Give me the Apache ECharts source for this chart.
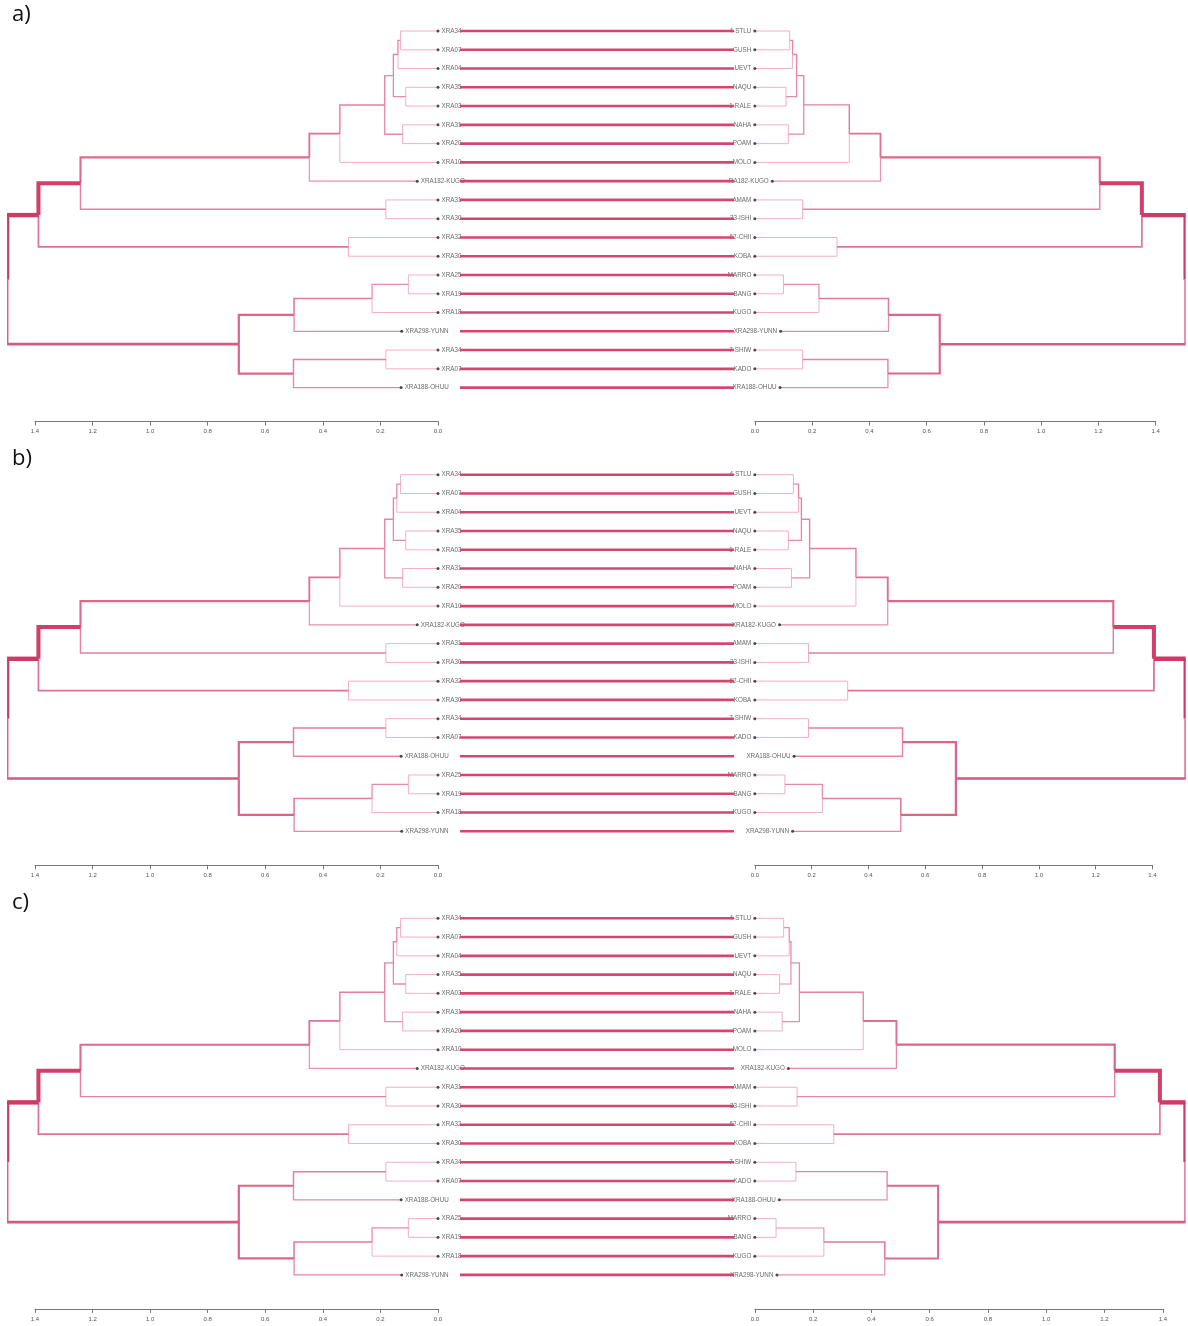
<!DOCTYPE html>
<html><head><meta charset="utf-8">
<script src="https://cdn.jsdelivr.net/npm/echarts@6/dist/echarts.min.js"></script>
<style>html,body{margin:0;padding:0;background:#fff}#c{width:1188px;height:1326px}</style>
</head><body><div id="c"></div>
<script>
// ---------- DATA ----------
const panelNames = ['a)', 'b)', 'c)'];

// Left dendrogram, panel a (top to bottom)
const leftLabelsA = ['XRA34','XRA07','XRA04','XRA35','XRA03','XRA31','XRA20','XRA10','XRA182-KUGO','XRA31','XRA30','XRA32','XRA30','XRA25','XRA19','XRA18','XRA298-YUNN','XRA34','XRA07','XRA188-OHUU'];
const leftLeafHA = [0,0,0,0,0,0,0,0,0.072,0,0,0,0,0,0,0,0.126,0,0,0.128];
// hclust-style merges: negative = leaf (1-based order), positive = earlier merge row; third = height
const leftMergesA = [[-1,-2,0.13],[1,-3,0.139],[-4,-5,0.112],[2,3,0.155],[-6,-7,0.123],[4,5,0.185],[6,-8,0.341],[7,-9,0.447],[-10,-11,0.181],[8,9,1.242],[-12,-13,0.311],[10,11,1.388],[-14,-15,0.103],[13,-16,0.229],[14,-17,0.5],[-18,-19,0.181],[16,-20,0.502],[15,17,0.692],[12,18,1.497]];

// Left dendrogram, panels b and c
const leftLabelsBC = ['XRA34','XRA07','XRA04','XRA35','XRA03','XRA31','XRA20','XRA10','XRA182-KUGO','XRA31','XRA30','XRA32','XRA30','XRA34','XRA07','XRA188-OHUU','XRA25','XRA19','XRA18','XRA298-YUNN'];
const leftLeafHBC = [0,0,0,0,0,0,0,0,0.072,0,0,0,0,0,0,0.128,0,0,0,0.126];
const leftMergesBC = [[-1,-2,0.13],[1,-3,0.143],[-4,-5,0.112],[2,3,0.155],[-6,-7,0.123],[4,5,0.185],[6,-8,0.341],[7,-9,0.447],[-10,-11,0.181],[8,9,1.242],[-12,-13,0.311],[10,11,1.388],[-14,-15,0.181],[13,-16,0.502],[-17,-18,0.103],[15,-19,0.229],[16,-20,0.5],[14,17,0.692],[12,18,1.497]];

// Right dendrogram, panel a
const rightLabelsA = ['4-STLU','GUSH','UEVT','NAQU','1-RALE','NAHA','POAM','MOLO','RA182-KUGO','AMAM','33-ISHI','62-CHII','KOBA','MARRO','BANG','KUGO','XRA298-YUNN','7-SHIW','KADO','XRA188-OHUU'];
const rightLeafHA = [0,0,0,0,0,0,0,0,0.061,0,0,0,0,0,0,0,0.09,0,0,0.088];
const rightMergesA = [[-1,-2,0.122],[1,-3,0.132],[-4,-5,0.109],[2,3,0.146],[-6,-7,0.117],[4,5,0.171],[6,-8,0.330],[7,-9,0.439],[-10,-11,0.167],[8,9,1.205],[-12,-13,0.287],[10,11,1.352],[-14,-15,0.1],[13,-16,0.224],[14,-17,0.467],[-18,-19,0.167],[16,-20,0.465],[15,17,0.646],[12,18,1.505]];

// Right dendrogram, panel b
const rightLabelsB = ['4-STLU','GUSH','UEVT','NAQU','1-RALE','NAHA','POAM','MOLO','XRA182-KUGO','AMAM','33-ISHI','62-CHII','KOBA','7-SHIW','KADO','XRA188-OHUU','MARRO','BANG','KUGO','XRA298-YUNN'];
const rightLeafHB = [0,0,0,0,0,0,0,0,0.087,0,0,0,0,0,0,0.138,0,0,0,0.133];
const rightMergesB = [[-1,-2,0.136],[1,-3,0.154],[-4,-5,0.118],[2,3,0.164],[-6,-7,0.129],[4,5,0.193],[6,-8,0.356],[7,-9,0.468],[-10,-11,0.189],[8,9,1.262],[-12,-13,0.327],[10,11,1.405],[-14,-15,0.189],[13,-16,0.52],[-17,-18,0.106],[15,-19,0.238],[16,-20,0.514],[14,17,0.708],[12,18,1.517]];

// Right dendrogram, panel c
const rightLabelsC = ['4-STLU','GUSH','UEVT','NAQU','1-RALE','NAHA','POAM','MOLO','XRA182-KUGO','AMAM','33-ISHI','62-CHII','KOBA','7-SHIW','KADO','XRA188-OHUU','MARRO','BANG','KUGO','XRA298-YUNN'];
const rightLeafHC = [0,0,0,0,0,0,0,0,0.115,0,0,0,0,0,0,0.084,0,0,0,0.076];
const rightMergesC = [[-1,-2,0.099],[1,-3,0.118],[-4,-5,0.085],[2,3,0.124],[-6,-7,0.094],[4,5,0.153],[6,-8,0.372],[7,-9,0.486],[-10,-11,0.145],[8,9,1.235],[-12,-13,0.271],[10,11,1.39],[-14,-15,0.141],[13,-16,0.454],[-17,-18,0.073],[15,-19,0.237],[16,-20,0.446],[14,17,0.629],[12,18,1.478]];

const axisMax = 1.4;
const axisStep = 0.2;

// ---------- LAYOUT ----------
const panelTop = [31, 474.7, 918.3];
const panelH = 356.6;
const axisOffset = 34;
const leftX = 35, leftW = 403;
const rightX = 754.8, rightW = [400.8, 397.7, 408];
const midX = 460, midW = 274;

const panels = [
  {left: [leftLabelsA, leftLeafHA, leftMergesA], right: [rightLabelsA, rightLeafHA, rightMergesA]},
  {left: [leftLabelsBC, leftLeafHBC, leftMergesBC], right: [rightLabelsB, rightLeafHB, rightMergesB]},
  {left: [leftLabelsBC, leftLeafHBC, leftMergesBC], right: [rightLabelsC, rightLeafHC, rightMergesC]}
];

function buildSegs(leafH, merges) {
  const nodes = [];
  const get = r => r < 0 ? {h: leafH[-r - 1], y: -r - 1} : nodes[r - 1];
  merges.forEach(m => {
    const a = get(m[0]), b = get(m[1]);
    nodes.push({h: m[2], y: (a.y + b.y) / 2, kids: [a, b]});
  });
  const rootNode = nodes[nodes.length - 1];
  const segs = [];
  nodes.forEach(p => p.kids.forEach(c => segs.push({pts: [[p.h, p.y], [p.h, c.y], [c.h, c.y]], h: c.h, root: p === rootNode})));
  const hmax = Math.max(...segs.map(s => s.h));
  segs.forEach(s => s.t = s.h / hmax);
  return segs;
}

const lightC = [243, 175, 197], darkC = [206, 58, 102];
function edgeColor(t) {
  const k = Math.pow(t, 0.45);
  const c = lightC.map((v, i) => Math.round(v + (darkC[i] - v) * k));
  return 'rgb(' + c.join(',') + ')';
}

const grids = [], xAxes = [], yAxes = [], series = [], titles = [];
const axisCommon = {
  type: 'value', min: 0, max: axisMax, interval: axisStep, position: 'bottom', offset: axisOffset,
  axisLine: {show: true, onZero: false, lineStyle: {color: '#777', width: 1}},
  axisTick: {show: true, length: 4, lineStyle: {color: '#777'}},
  axisLabel: {fontSize: 6, color: '#555', margin: 7, fontFamily: 'Liberation Sans', formatter: v => v.toFixed(1)},
  splitLine: {show: false}
};

function treeSeries(gi, segs, dir) {
  return {
    type: 'custom', xAxisIndex: gi, yAxisIndex: gi, clip: false, z: 3,
    data: segs.map((s, i) => [s.pts[0][0], s.pts[0][1], s.pts[2][0], s.pts[2][1], i]),
    renderItem: (params, api) => {
      const s = segs[params.dataIndex];
      const pts = s.pts.map(p => api.coord(p));
      const w = 1 + 3.4 * s.t;
      const col = edgeColor(s.t);
      if (!s.root) {
        return {type: 'polyline', shape: {points: pts},
          style: {stroke: col, lineWidth: w, fill: null, lineJoin: 'miter', lineCap: 'butt'}};
      }
      // root edge: the vertical part sits on the plot edge, so only its inner half shows
      const vx = pts[0][0] + dir * w / 4;
      return {type: 'group', children: [
        {type: 'line', shape: {x1: vx, y1: pts[0][1], x2: vx, y2: pts[1][1]},
          style: {stroke: col, lineWidth: w / 2}},
        {type: 'line', shape: {x1: pts[1][0], y1: pts[1][1], x2: pts[2][0], y2: pts[2][1]},
          style: {stroke: col, lineWidth: w}}
      ]};
    }
  };
}

function dotSeries(gi, labels, leafH, side) {
  return {
    type: 'scatter', xAxisIndex: gi, yAxisIndex: gi, symbolSize: 3, z: 4,
    itemStyle: {color: '#222'},
    label: {show: true, position: side, distance: 2, fontSize: 6.3, color: '#444', fontFamily: 'Liberation Sans',
      formatter: p => p.name},
    data: labels.map((l, i) => ({name: l, value: [leafH[i], i]}))
  };
}

panels.forEach((pn, k) => {
  const top = panelTop[k];
  titles.push({text: panelNames[k], left: 7, top: top - 32,
    textStyle: {fontSize: 22, fontWeight: 'normal', color: '#111', fontFamily: 'Open Sans'}});
  // left
  let gi = grids.length;
  grids.push({left: leftX, top: top, width: leftW, height: panelH});
  xAxes.push(Object.assign({}, axisCommon, {gridIndex: gi, inverse: true}));
  yAxes.push({type: 'value', gridIndex: gi, min: 0, max: 19, inverse: true, show: false});
  const [lL, lH, lM] = pn.left;
  series.push(treeSeries(gi, buildSegs(lH, lM), 1));
  series.push(dotSeries(gi, lL, lH, 'right'));
  // right
  gi = grids.length;
  grids.push({left: rightX, top: top, width: rightW[k], height: panelH});
  xAxes.push(Object.assign({}, axisCommon, {gridIndex: gi, inverse: false}));
  yAxes.push({type: 'value', gridIndex: gi, min: 0, max: 19, inverse: true, show: false});
  const [rL, rH, rM] = pn.right;
  series.push(treeSeries(gi, buildSegs(rH, rM), -1));
  series.push(dotSeries(gi, rL, rH, 'left'));
  // middle connecting lines
  gi = grids.length;
  grids.push({left: midX, top: top, width: midW, height: panelH});
  xAxes.push({type: 'value', gridIndex: gi, min: 0, max: 1, show: false});
  yAxes.push({type: 'value', gridIndex: gi, min: 0, max: 19, inverse: true, show: false});
  series.push({
    type: 'custom', xAxisIndex: gi, yAxisIndex: gi, clip: false, z: 6,
    data: lL.map((l, i) => [i]),
    renderItem: (params, api) => {
      const i = api.value(0);
      const a = api.coord([0, i]), b = api.coord([1, i]);
      return {type: 'line', shape: {x1: a[0], y1: a[1], x2: b[0], y2: b[1]},
        style: {stroke: '#d4466f', lineWidth: 2.6}};
    }
  });
});

const chart = echarts.init(document.getElementById('c'), null, {renderer: 'canvas'});
chart.setOption({
  backgroundColor: '#fff',
  animation: false,
  title: titles,
  grid: grids,
  xAxis: xAxes,
  yAxis: yAxes,
  series: series
});
</script>
</body></html>
